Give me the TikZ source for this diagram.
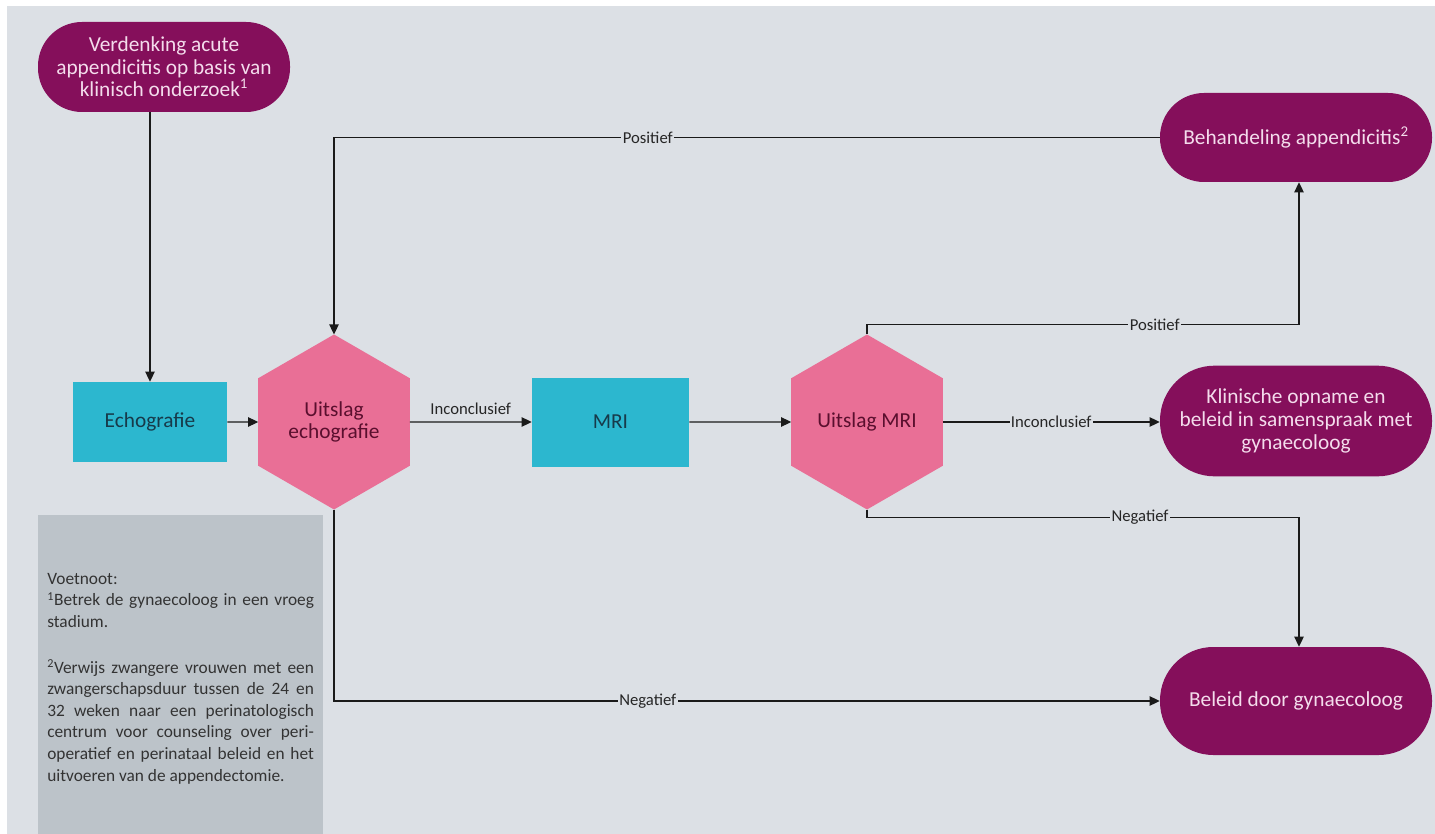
\documentclass[tikz,border=0pt]{standalone}
\usepackage{fontspec}
\setmainfont{Carlito}
\usetikzlibrary{shapes.geometric,arrows.meta}
\definecolor{bgc}{HTML}{DCE0E5}
\definecolor{purp}{HTML}{850F5B}
\definecolor{purptxt}{HTML}{F4DCEC}
\definecolor{pinkh}{HTML}{E96F96}
\definecolor{pinktxt}{HTML}{5A0F2E}
\definecolor{tealb}{HTML}{2CB7CF}
\definecolor{tealtxt}{HTML}{173A4A}
\definecolor{notec}{HTML}{BCC3C9}
\definecolor{linec}{HTML}{1A1A1A}
\begin{document}
\begin{tikzpicture}[x=0.75pt,y=-0.75pt,
  pill/.style={draw=none,fill=purp,text=purptxt,align=center,inner sep=2pt,
    font=\fontsize{16}{17}\selectfont,minimum width=204pt},
  procbox/.style={draw=none,fill=tealb,text=tealtxt,align=center,
    font=\fontsize{16}{17}\selectfont},
  hexa/.style={regular polygon,regular polygon sides=6,shape border rotate=30,
    draw=none,fill=pinkh,text=pinktxt,align=center,inner sep=0pt,outer sep=0pt,
    minimum size=131.25pt,font=\fontsize{16}{17}\selectfont},
  conn/.style={draw=linec,line width=0.9pt,-{Triangle[length=7.5pt,width=7pt]}},
  lbl/.style={fill=bgc,inner sep=1pt,text=black!85,font=\fontsize{12.5}{14}\selectfont}
]
\useasboundingbox (0,0) rectangle (1435,834);
\fill[white] (0,0) rectangle (1435,834);
\fill[bgc] (7,6) rectangle (1435,834);
\fill[notec] (38,515) rectangle (323,834);

\node[pill,minimum width=189pt,minimum height=67.5pt,rounded corners=33pt] (start) at (164,67)
  {Verdenking acute\\appendicitis op basis van\\klinisch onderzoek\textsuperscript{1}};
\node[pill,minimum height=66.75pt,rounded corners=33pt] (beh) at (1296,137.5)
  {Behandeling appendicitis\textsuperscript{2}};
\node[pill,minimum height=83pt,rounded corners=41pt] (kli) at (1296,421)
  {Klinische opname en\\beleid in samenspraak met\\gynaecoloog};
\node[pill,minimum height=81pt,rounded corners=40pt] (bel) at (1296,701)
  {Beleid door gynaecoloog};

\node[procbox,minimum width=115.5pt,minimum height=60pt] (echo) at (150,422) {Echografie};
\node[procbox,minimum width=117.75pt,minimum height=66.75pt] (mri) at (610.5,422) {MRI};

\node[hexa] (hexE) at (334,422) {Uitslag\\echografie};
\node[hexa] (hexM) at (867,422) {Uitslag MRI};

\node[anchor=north west,text width=200pt,align=justify,inner sep=0pt,text=black!80,
  font=\fontsize{13}{16.2}\selectfont] (note) at (47,573)
  {Voetnoot:\\
   \textsuperscript{1}Betrek de gynaecoloog in een vroeg\linebreak stadium.\par\vspace{18pt}
   \textsuperscript{2}Verwijs zwangere vrouwen met een\linebreak zwangerschapsduur tussen de 24 en\linebreak
   32 weken naar een perinatologisch\linebreak centrum voor counseling over peri-\linebreak
   operatief en perinataal beleid en het\linebreak uitvoeren van de appendectomie.};

\draw[conn] (start.south -| echo.north) -- (echo.north);
\draw[conn] (echo.east) -- (hexE.west);
\draw[conn] (beh.west) -| node[lbl,pos=0.31] {Positief} (hexE.north);
\draw[conn] (hexE.east) -- node[above,font=\fontsize{12.5}{14}\selectfont,text=black!85,inner sep=5pt] {Inconclusief} (mri.west);
\draw[conn] (mri.east) -- (hexM.west);
\draw[conn] (hexM.north) -- ++(0,-10) -| node[lbl,pos=0.333] {Positief} ([xshift=2.25pt]beh.south);
\draw[conn] (hexM.east) -- node[lbl,pos=0.5] {Inconclusief} (hexM.east -| kli.west);
\draw[conn] (hexM.south) -- ++(0,8) -| node[lbl,pos=0.316] {Negatief} ([xshift=2.25pt]bel.north);
\draw[conn] (hexE.south) |- node[lbl,pos=0.69] {Negatief} (bel.west);
\end{tikzpicture}
\end{document}
